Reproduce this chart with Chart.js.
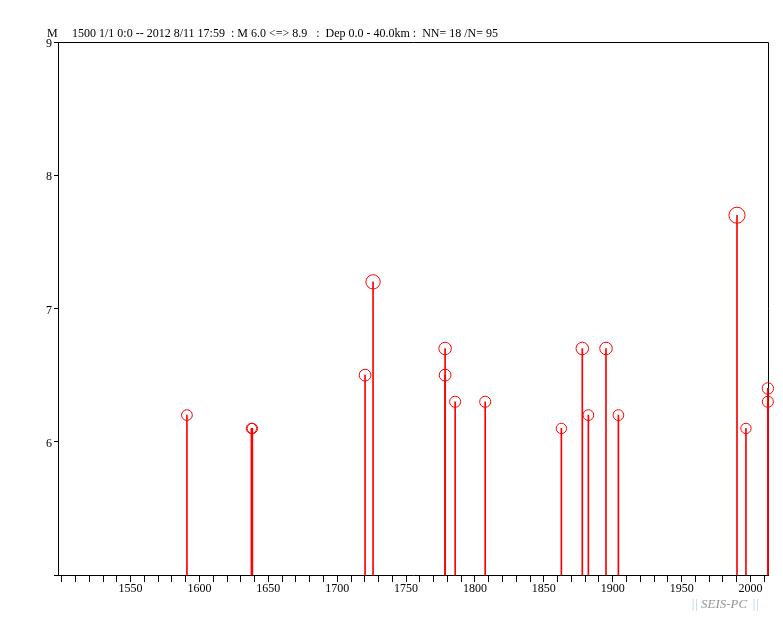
<!DOCTYPE html>
<html>
<head>
<meta charset="utf-8">
<script src="https://cdn.jsdelivr.net/npm/chart.js@4"></script>
<style>
  body { margin: 0; background: #fff; }
  #wrap { width: 783px; height: 618px; }
</style>
</head>
<body>
<div id="wrap"><canvas id="chart" width="783" height="618"></canvas></div>
<script>
// event dates (decimal year) and magnitudes
const years = [1590.9, 1637.7, 1638.4, 1720.2, 1726.0, 1778.3, 1778.3, 1785.6, 1807.4,
               1862.7, 1877.9, 1882.3, 1895.1, 1904.1, 1990.2, 1996.7, 2012.6, 2012.6];
const mags = [6.2, 6.1, 6.1, 6.5, 7.2, 6.7, 6.5, 6.3, 6.3,
              6.1, 6.7, 6.2, 6.7, 6.2, 7.7, 6.1, 6.4, 6.3];

const yTicks = [5, 6, 7, 8, 9];
const xTicks = [];
for (let y = 1500; y <= 2010; y += 10) xTicks.push(y);

const titleText = '1500 1/1 0:0 -- 2012 8/11 17:59  : M 6.0 <=> 8.9   :  Dep 0.0 - 40.0km :  NN= 18 /N= 95';

const points = years.map((x, i) => ({ x: x, y: mags[i] }));

const font = { family: '"Liberation Serif", "Times New Roman", serif', size: 12 };

const decor = {
    id: 'decor',
    beforeDatasetsDraw(c) {
        const ctx = c.ctx;
        const a = c.chartArea;
        ctx.save();
        // top and right frame, under the marks
        ctx.strokeStyle = '#000';
        ctx.lineWidth = 1;
        ctx.beginPath();
        ctx.moveTo(a.left, Math.round(a.top) + 0.5);
        ctx.lineTo(Math.round(a.right) + 0.5, Math.round(a.top) + 0.5);
        ctx.lineTo(Math.round(a.right) + 0.5, a.bottom);
        ctx.stroke();
        ctx.restore();
    },
    afterDraw(c) {
        const ctx = c.ctx;
        ctx.save();
        ctx.fillStyle = '#000';
        ctx.font = '12px "Liberation Serif"';
        ctx.textBaseline = 'alphabetic';
        ctx.fillText('M', 47, 37);
        ctx.fillText(titleText, 72, 37);

        // logo
        ctx.font = 'italic 13px "Liberation Serif"';
        ctx.fillStyle = '#b8cdf0';
        ctx.fillText('||', 691, 608);
        ctx.fillText('||', 752, 608);
        ctx.fillStyle = '#959595';
        ctx.fillText('SEIS-PC', 701, 608);
        ctx.restore();
    }
};

new Chart(document.getElementById('chart'), {
    type: 'scatter',
    data: {
        datasets: [
            {
                type: 'scatter',
                data: points,
                clip: false,
                borderColor: '#ff0000',
                backgroundColor: 'rgba(0,0,0,0)',
                borderWidth: 1,
                pointRadius: (ctx) => 5 + (mags[ctx.dataIndex] - 6) * 1.8,
                pointHoverRadius: (ctx) => 5 + (mags[ctx.dataIndex] - 6) * 1.8
            },
            {
                type: 'bar',
                data: points,
                clip: { left: 0, top: 0, right: 5, bottom: 0 },
                backgroundColor: '#ff0000',
                borderWidth: 0,
                barThickness: 1,
                grouped: false
            }
        ]
    },
    options: {
        responsive: false,
        animation: false,
        layout: { padding: { top: 42, right: 15, left: 0, bottom: 0 } },
        plugins: { legend: { display: false }, tooltip: { enabled: false } },
        scales: {
            x: {
                type: 'linear',
                offset: false,
                min: 1497.3,
                max: 2012.7,
                afterBuildTicks: (s) => { s.ticks = xTicks.map(v => ({ value: v })); },
                afterFit: (s) => { s.height = 43; },
                border: { display: true, color: '#000', width: 1 },
                grid: { display: true, offset: false, drawOnChartArea: false, drawTicks: true, tickLength: 7, color: '#000' },
                ticks: {
                    autoSkip: false,
                    maxRotation: 0,
                    padding: 0,
                    color: '#000',
                    font: font,
                    callback: (v) => (v % 50 === 0 && v !== 1500) ? String(v) : ''
                }
            },
            y: {
                min: 5,
                max: 9,
                afterBuildTicks: (s) => { s.ticks = yTicks.map(v => ({ value: v })); },
                afterFit: (s) => { s.width = 58; },
                border: { display: true, color: '#000', width: 1 },
                grid: { display: true, drawOnChartArea: false, drawTicks: true, tickLength: 4, color: '#000' },
                ticks: {
                    padding: 2,
                    labelOffset: 2,
                    color: '#000',
                    font: font,
                    callback: (v) => v === 5 ? '' : String(v)
                }
            }
        }
    },
    plugins: [decor]
});
</script>
</body>
</html>
